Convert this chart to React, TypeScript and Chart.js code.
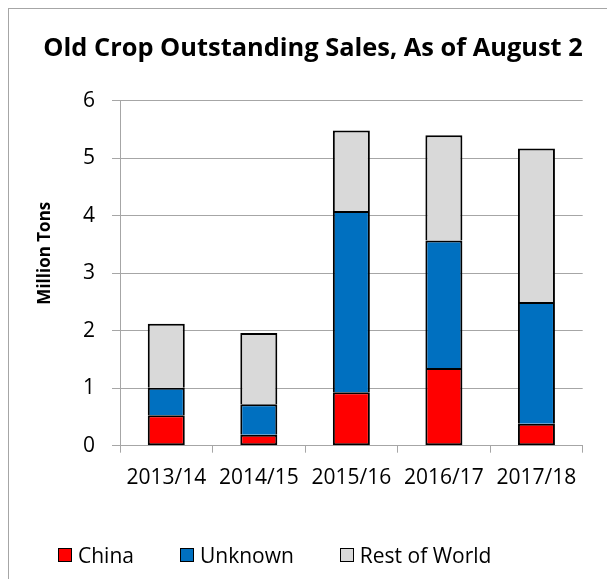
import React, { useEffect, useRef } from "react";
import { Chart, registerables } from "chart.js";

Chart.register(...registerables);

const categories = ["2013/14", "2014/15", "2015/16", "2016/17", "2017/18"];
const china = [0.53, 0.19, 0.93, 1.35, 0.38];
const unknown = [0.48, 0.53, 3.15, 2.22, 2.12];
const restOfWorld = [1.11, 1.24, 1.4, 1.83, 2.67];
const seriesNames = ["China", "Unknown", "Rest of World"];
const seriesColors = ["#ff0000", "#0070c0", "#d9d9d9"];
const yTicks = [0, 1, 2, 3, 4, 5, 6];
const titleText = "Old Crop Outstanding Sales, As of August 2";
const yTitleText = "Million Tons";

const FONT = "'Open Sans', sans-serif";
const GRID = "#a6a6a6";

const yTitlePlugin = {
  id: "yTitle",
  afterDraw(chart: any) {
    const { ctx, chartArea } = chart;
    ctx.save();
    ctx.font = `bold 17px ${FONT}`;
    ctx.fillStyle = "#000";
    ctx.textAlign = "center";
    ctx.textBaseline = "middle";
    const x = 36;
    const y = chartArea.top + chartArea.height * 0.442;
    ctx.translate(x, y);
    ctx.rotate(-Math.PI / 2);
    ctx.fillText(yTitleText, 0, 0);
    ctx.restore();
  },
};

export default function App() {
  const ref = useRef<HTMLCanvasElement | null>(null);

  useEffect(() => {
    if (!ref.current) return;
    const seriesData = [china, unknown, restOfWorld];
    const chart = new Chart(ref.current, {
      type: "bar",
      data: {
        labels: categories,
        datasets: seriesNames.map((name, i) => ({
          label: name,
          data: seriesData[i],
          backgroundColor: seriesColors[i],
          borderColor: "#000",
          borderWidth: { left: 2, right: 2, top: 2, bottom: i === 0 ? 2 : 0 },
          borderSkipped: false,
          categoryPercentage: 0.8,
          barPercentage: 0.5,
        })),
      },
      options: {
        animation: false,
        responsive: true,
        maintainAspectRatio: false,
        layout: { padding: { left: 34.3, right: 32.3, top: 0, bottom: 0 } },
        plugins: {
          legend: { display: false },
          tooltip: { enabled: false },
          title: {
            display: true,
            text: titleText,
            color: "#000",
            font: { family: FONT, size: 25.5, weight: "bold", lineHeight: 1.2 },
            padding: { top: 24.5, bottom: 36.6 },
          },
        },
        scales: {
          x: {
            stacked: true,
            grid: {
              display: true,
              drawOnChartArea: false,
              drawTicks: true,
              tickLength: 7,
              color: GRID,
              offset: true,
            },
            border: { display: true, color: GRID, width: 1 },
            ticks: {
              color: "#000",
              font: { family: FONT, size: 21 },
              padding: 13,
              maxRotation: 0,
              autoSkip: false,
            },
            afterFit(scale: any) {
              scale.height = 133.3;
            },
          },
          y: {
            stacked: true,
            min: 0,
            max: 6,
            afterBuildTicks(scale: any) {
              scale.ticks = yTicks.map((v) => ({ value: v }));
            },
            grid: { color: GRID, tickLength: 8, lineWidth: 1 },
            border: { display: true, color: GRID, width: 1 },
            ticks: {
              color: "#000",
              font: { family: FONT, size: 21 },
              padding: 17,
            },
            afterFit(scale: any) {
              scale.width = 76.7;
            },
          },
        },
      },
      plugins: [yTitlePlugin],
    });
    return () => chart.destroy();
  }, []);

  return (
    <div
      style={{
        position: "relative",
        width: 607,
        height: 571,
        borderTop: `1px solid ${GRID}`,
        borderLeft: `1px solid ${GRID}`,
        boxSizing: "border-box",
        background: "#fff",
        fontFamily: FONT,
      }}
    >
      <div style={{ position: "absolute", left: 0, top: 0, width: 606, height: 570 }}>
        <canvas ref={ref} />
      </div>
      <div
        style={{
          position: "absolute",
          left: 49,
          top: 534,
          height: 24,
          display: "flex",
          alignItems: "center",
          gap: 46,
        }}
      >
        {seriesNames.map((name, i) => (
          <div key={name} style={{ display: "flex", alignItems: "center", gap: 6 }}>
            <span
              style={{
                display: "inline-block",
                width: 12,
                height: 12,
                border: "1px solid #000",
                background: seriesColors[i],
              }}
            />
            <span style={{ fontSize: 21, lineHeight: "24px", color: "#000" }}>{name}</span>
          </div>
        ))}
      </div>
    </div>
  );
}
